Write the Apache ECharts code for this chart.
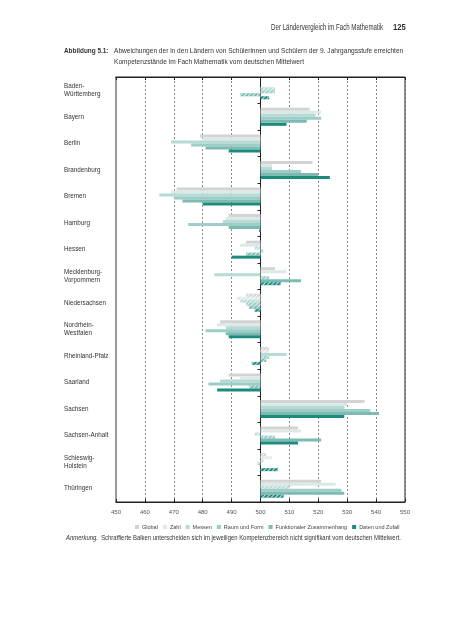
<!DOCTYPE html>
<html><head><meta charset="utf-8">
<script src="https://cdn.jsdelivr.net/npm/echarts@6/dist/echarts.min.js"></script>
<style>html,body{margin:0;padding:0;background:#fff}#c{width:453px;height:640px}</style>
</head><body><div id="c"></div>
<script>
// Data
const states = ['Baden-\nWürttemberg','Bayern','Berlin','Brandenburg','Bremen','Hamburg','Hessen','Mecklenburg-\nVorpommern','Niedersachsen','Nordrhein-\nWestfalen','Rheinland-Pfalz','Saarland','Sachsen','Sachsen-Anhalt','Schleswig-\nHolstein','Thüringen'];
const seriesNames = ['Global','Zahl','Messen','Raum und Form','Funktionaler Zusammenhang','Daten und Zufall'];
const globalVals = [500,517,479,518,471,489,495,505,495,486,503,489,536,513,502,521];
const zahlVals   = [500,521,480,504,469,488,493,509,492,485,503,493,530,514,504,526];
const messenVals = [505,519,469,504,465,487,498,484,493,488,509,486,529,498,501,510];
const raumVals   = [505,521,476,514,470,475,501,503,495,481,503,482,538,505,499,528];
const funktVals  = [493,516,481,520,473,489,495,514,496,488,502,496,541,521,500,529];
const datenVals  = [503,509,489,524,480,499.5,490,507,498,489,497,485,529,513,506,508];
// 1 = not significant (hatched)
const globalNS = [1,0,0,0,0,0,0,0,1,0,1,0,0,0,1,0];
const zahlNS   = [1,0,0,0,0,0,0,0,1,0,1,0,0,0,1,0];
const messenNS = [1,0,0,0,0,0,1,0,1,0,0,0,0,1,1,1];
const raumNS   = [1,0,0,0,0,0,1,1,1,0,1,0,0,1,1,0];
const funktNS  = [1,0,0,0,0,0,1,0,1,0,1,1,0,0,1,0];
const datenNS  = [1,0,0,0,0,1,0,1,1,0,1,0,0,0,1,1];
const mean = 500;
const xTickLabels = [450,460,470,480,490,500,510,520,530,540,550];

const vals = [globalVals,zahlVals,messenVals,raumVals,funktVals,datenVals];
const ns = [globalNS,zahlNS,messenNS,raumNS,funktNS,datenNS];
const colors = ['#d3d3d3','#dde9e7','#b6dbd6','#9ccdc6','#7cbab2','#1b8b7d'];
const FONT = '"Liberation Sans","DejaVu Sans",sans-serif';

const hatch = {symbol:'rect', symbolSize:1, color:'rgba(255,255,255,0.75)', dashArrayX:[1,0], dashArrayY:[1,1.6], rotation:-Math.PI/4};

const chart = echarts.init(document.getElementById('c'), null, {renderer:'canvas'});
chart.setOption({
  animation:false,
  textStyle:{fontFamily:FONT},
  grid:{left:116, right:48, top:77, bottom:138, show:true, borderColor:'#222', borderWidth:1},
  legend:{
    data:seriesNames, left:130, top:519, width:330, icon:'rect', itemWidth:4, itemHeight:4, itemGap:5,
    textStyle:{fontSize:5.5, color:'#444', fontFamily:FONT, padding:[0,0,0,-2]}
  },
  xAxis:[
    {type:'value', min:-50, max:50, interval:10, position:'bottom',
     axisLine:{show:true, onZero:false, lineStyle:{color:'#222'}},
     axisTick:{show:true, inside:true, length:3, lineStyle:{color:'#222'}},
     axisLabel:{formatter:v=>String(xTickLabels[Math.round((v+50)/10)]), fontSize:6, color:'#555', margin:7, fontFamily:FONT},
     splitLine:{show:true, lineStyle:{type:[2,2], color:'#666', width:0.8}}},
    {type:'value', min:-50, max:50, interval:10, position:'top',
     axisLine:{show:true, onZero:false, lineStyle:{color:'#222'}},
     axisTick:{show:true, inside:true, length:3, lineStyle:{color:'#222'}},
     axisLabel:{show:false}, splitLine:{show:false}}
  ],
  yAxis:[
    {type:'category', data:states, inverse:true, position:'left',
     axisLine:{show:true, onZero:false, lineStyle:{color:'#9a9a9a', width:2}},
     axisTick:{show:false},
     axisLabel:{align:'left', margin:52, fontSize:6.3, lineHeight:8.5, color:'#333', fontFamily:FONT}},
    {type:'category', data:states, inverse:true, position:'right',
     axisLine:{show:true, onZero:true, lineStyle:{color:'#222'}},
     axisTick:{show:true, inside:true, length:3, lineStyle:{color:'#222'}},
     axisLabel:{show:false}}
  ],
  series: seriesNames.map((n,i)=>({
    name:n, type:'bar', barWidth:3, barGap:'0%', silent:true,
    itemStyle:{color:colors[i]},
    data: vals[i].map((v,j)=> ns[i][j] ? {value:v-mean, itemStyle:{decal:hatch}} : {value:v-mean})
  })),
  graphic:[
    {type:'text', x:383, y:28, scaleX:0.72, style:{text:'Der Ländervergleich im Fach Mathematik', font:'8.5px '+FONT, fill:'#333', textAlign:'right', textVerticalAlign:'middle'}},
    {type:'text', x:393, y:28, scaleX:0.85, style:{text:'125', font:'bold 9px '+FONT, fill:'#333', textAlign:'left', textVerticalAlign:'middle'}},
    {type:'text', x:64, y:51, scaleX:0.8, style:{text:'Abbildung 5.1:', font:'bold 8px '+FONT, fill:'#333', textVerticalAlign:'middle'}},
    {type:'text', x:114, y:51, scaleX:0.82, style:{text:'Abweichungen der in den Ländern von Schülerinnen und Schülern der 9. Jahrgangsstufe erreichten', font:'8px '+FONT, fill:'#333', textVerticalAlign:'middle'}},
    {type:'text', x:114, y:62, scaleX:0.82, style:{text:'Kompetenzstände im Fach Mathematik vom deutschen Mittelwert', font:'8px '+FONT, fill:'#333', textVerticalAlign:'middle'}},
    {type:'text', x:66, y:538, scaleX:0.845, style:{text:'{a|Anmerkung.}  Schraffierte Balken unterscheiden sich im jeweiligen Kompetenzbereich nicht signifikant vom deutschen Mittelwert.', font:'7px '+FONT, fill:'#333', textVerticalAlign:'middle', rich:{a:{fontStyle:'italic', fontSize:7, fontFamily:FONT, fill:'#333'}}}}
  ]
});
</script></body></html>
